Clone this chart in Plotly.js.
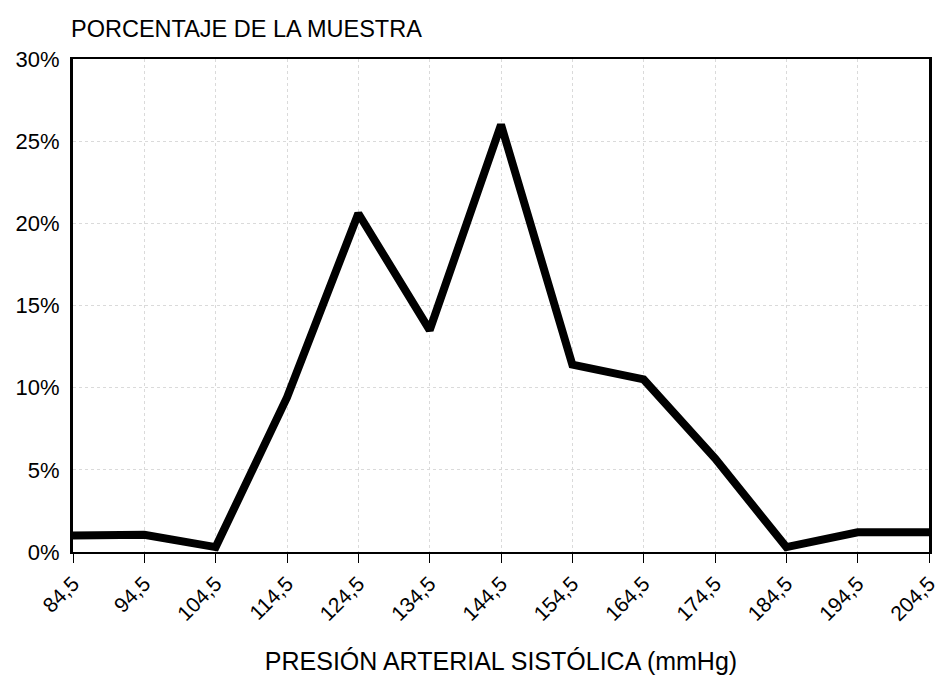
<!DOCTYPE html>
<html>
<head>
<meta charset="utf-8">
<script src="https://cdn.plot.ly/plotly-3.0.1.min.js"></script>
<style>html,body{margin:0;padding:0;background:#fff;}#chart{width:942px;height:679px;}</style>
</head>
<body>
<div id="chart"></div>
<script>
const pressure = [84.5, 94.5, 104.5, 114.5, 124.5, 134.5, 144.5, 154.5, 164.5, 174.5, 184.5, 194.5, 204.5];
const percentSample = [1.0, 1.05, 0.3, 9.4, 20.6, 13.5, 26.0, 11.4, 10.5, 5.7, 0.3, 1.2, 1.2];
const xTickLabels = ["84,5", "94,5", "104,5", "114,5", "124,5", "134,5", "144,5", "154,5", "164,5", "174,5", "184,5", "194,5", "204,5"];
const yTickValues = [0, 5, 10, 15, 20, 25, 30];
const yTickLabels = ["0%", "5%", "10%", "15%", "20%", "25%", "30%"];

const font = 'Liberation Sans, Arial, Helvetica, sans-serif';

const trace = {
  x: pressure,
  y: percentSample,
  type: 'scatter',
  mode: 'lines',
  line: {color: '#000', width: 8, shape: 'linear'},
  hoverinfo: 'x+y'
};

const layout = {
  width: 942,
  height: 679,
  margin: {l: 73, r: 13, t: 59, b: 127},
  paper_bgcolor: '#fff',
  plot_bgcolor: '#fff',
  showlegend: false,
  font: {family: font, color: '#000', size: 22},
  xaxis: {
    range: [84.5, 204.5],
    tickvals: pressure,
    ticktext: xTickLabels,
    tickangle: -45,
    ticks: 'outside',
    ticklen: 9,
    tickwidth: 1,
    tickcolor: '#000',
    tickfont: {family: font, size: 21, color: '#000'},
    showline: true,
    linecolor: '#000',
    linewidth: 2,
    mirror: true,
    showgrid: true,
    gridcolor: '#dadada',
    gridwidth: 1,
    griddash: 'dot',
    zeroline: false,
    automargin: false,
    title: {text: 'PRESIÓN ARTERIAL SISTÓLICA (mmHg)', font: {family: font, size: 25, color: '#000'}, standoff: 28}
  },
  yaxis: {
    range: [0, 30],
    tickvals: yTickValues,
    ticktext: yTickLabels,
    ticks: '',
    tickfont: {family: font, size: 22, color: '#000'},
    showline: true,
    linecolor: '#000',
    linewidth: 3,
    mirror: true,
    showgrid: true,
    gridcolor: '#dadada',
    gridwidth: 1,
    griddash: 'dot',
    zeroline: false,
    automargin: false,
    ticklabelstandoff: 6
  },
  annotations: [{
    text: 'PORCENTAJE DE LA MUESTRA',
    xref: 'paper', yref: 'paper',
    x: 0, y: 1,
    xanchor: 'left', yanchor: 'bottom',
    xshift: -4, yshift: 15,
    showarrow: false,
    font: {family: font, size: 23.5, color: '#000'}
  }]
};

Plotly.newPlot('chart', [trace], layout, {displayModeBar: false, staticPlot: true});
</script>
</body>
</html>
